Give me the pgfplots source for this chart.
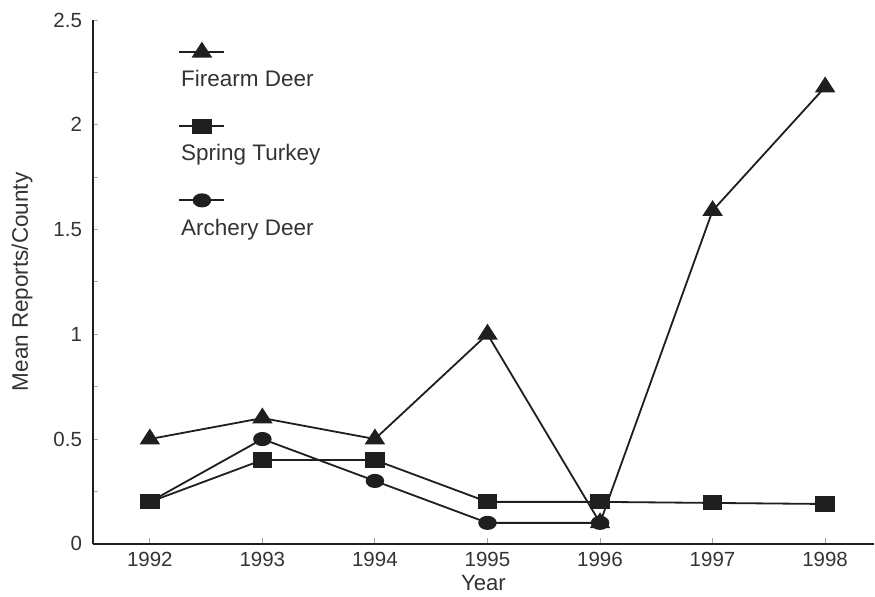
\documentclass[border=0pt]{standalone}
\usepackage{fontspec}
\setmainfont{Liberation Sans}
\usepackage{pgfplots}
\pgfplotsset{compat=1.18}
\definecolor{ink}{gray}{0.12}
\definecolor{txt}{gray}{0.2}
\begin{document}
\begin{tikzpicture}
\begin{axis}[
  scale only axis,
  width=431pt, height=289pt,
  xmin=1991.494, xmax=1998.435,
  ymin=0, ymax=2.5,
  axis x line*=bottom, axis y line*=left,
  axis line style={ink, line width=1pt, -},
  xtick={1992,...,1998},
  ytick={0,0.5,...,2.5},
  minor y tick num=1,
  tick align=inside,
  major tick length=3pt, minor tick length=3pt,
  tick style={gray!70, line width=0.5pt},
  /pgf/number format/1000 sep={},
  /pgf/number format/assume math mode=true,
  tick label style={font=\fontsize{11.3}{13}\selectfont, text=txt},
  yticklabel style={xshift=-2.5pt},
  xticklabel style={yshift=-1.2pt},
  xlabel={Year}, ylabel={Mean Reports/County},
  every axis x label/.style={at={(axis description cs:0.5,-0.074)}, anchor=center, font=\fontsize{12.2}{14}\selectfont, text=txt},
  every axis y label/.style={at={(axis description cs:-0.0908,0.5)}, anchor=center, rotate=90, font=\fontsize{12.4}{14}\selectfont, text=txt},
  clip=false,
  legend style={at={(axis description cs:0.108,0.911)}, anchor=north west, draw=none, fill=none, inner xsep=0pt, inner ysep=0pt, row sep=26.4pt, font=\fontsize{12.4}{14}\selectfont, text=txt},
  legend cell align=left,
  legend image code/.code={\draw[overlay, mark repeat=2, mark phase=2, #1] plot coordinates {(1pt,15.4pt) (13.4pt,15.4pt) (25.8pt,15.4pt)};},
  every axis plot/.append style={ink, line width=1pt},
]
\addplot[mark=triangle*, mark size=4.9pt, mark options={solid, xscale=1.12}] coordinates {(1992,0.5) (1993,0.6) (1994,0.5) (1995,1.0) (1996,0.1) (1997,1.59) (1998,2.18)};
\addlegendentry{Firearm Deer}
\addplot[mark=square*, mark size=3.65pt, mark options={solid, xscale=1.35}] coordinates {(1992,0.2) (1993,0.4) (1994,0.4) (1995,0.2) (1996,0.2) (1997,0.195) (1998,0.19)};
\addlegendentry{Spring Turkey}
\addplot[mark=*, mark size=3.4pt, mark options={solid, xscale=1.35}] coordinates {(1992,0.2) (1993,0.5) (1994,0.3) (1995,0.1) (1996,0.1)};
\addlegendentry{Archery Deer}
\path (axis description cs:-0.1189,1.0381) (axis description cs:1,-0.101);
\end{axis}
\end{tikzpicture}
\end{document}
